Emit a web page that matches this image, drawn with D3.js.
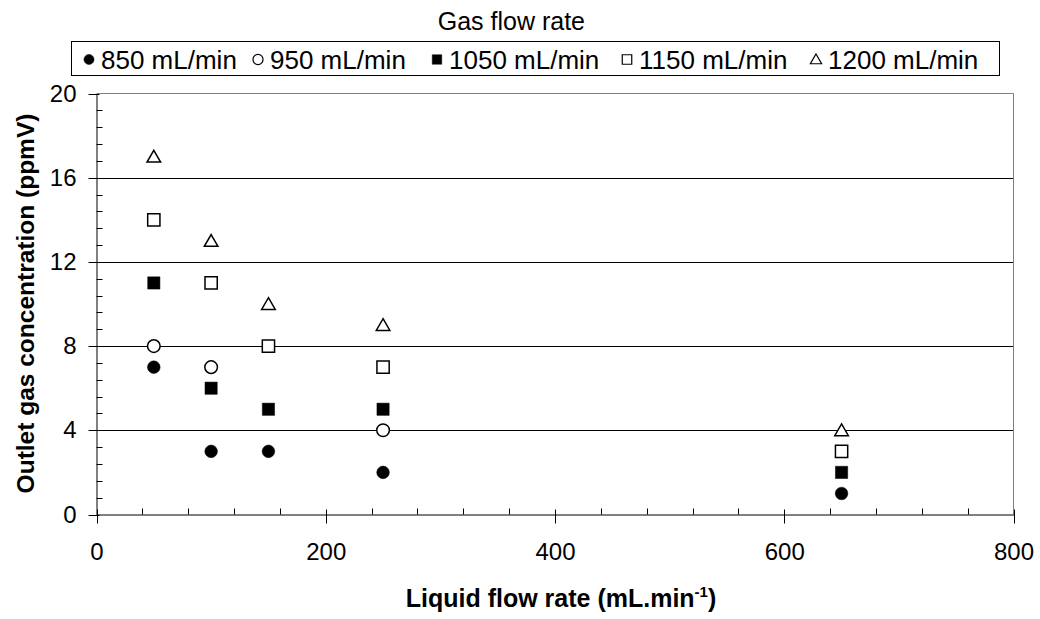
<!DOCTYPE html>
<html><head><meta charset="utf-8">
<script src="https://cdn.jsdelivr.net/npm/d3@7"></script>
<style>body{margin:0;background:#fff}svg{display:block;font-family:"Liberation Sans",Arial,sans-serif}</style>
</head><body>
<svg id="c" width="1040" height="619"></svg>
<script>
const seriesNames = ["850 mL/min","950 mL/min","1050 mL/min","1150 mL/min","1200 mL/min"];
const xs850 = [50,100,150,250,650], ys850 = [7,3,3,2,1];
const xs950 = [50,100,250], ys950 = [8,7,4];
const xs1050 = [50,100,150,250,650], ys1050 = [11,6,5,5,2];
const xs1150 = [50,100,150,250,650], ys1150 = [14,11,8,7,3];
const xs1200 = [50,100,150,250,650], ys1200 = [17,13,10,9,4];
const xTicks = [0,200,400,600,800];
const yTicks = [0,4,8,12,16,20];

const series = [
  {name:seriesNames[0], xs:xs850, ys:ys850, shape:"circle", fill:"#000"},
  {name:seriesNames[1], xs:xs950, ys:ys950, shape:"circle", fill:"#fff"},
  {name:seriesNames[2], xs:xs1050, ys:ys1050, shape:"square", fill:"#000"},
  {name:seriesNames[3], xs:xs1150, ys:ys1150, shape:"square", fill:"#fff"},
  {name:seriesNames[4], xs:xs1200, ys:ys1200, shape:"triangle", fill:"#fff"}
];

const svg = d3.select("#c");
const L=96.5, R=1013.5, T=93.5, B=514.5;
const x = d3.scaleLinear().domain([0,800]).range([L,R]);
const y = d3.scaleLinear().domain([0,20]).range([B,T]);
const py = v => Math.round(y(v))+0.5, px = v => Math.round(x(v))+0.5;

// gridlines
svg.append("g").selectAll("line").data([4,8,12,16]).join("line")
  .attr("x1",L).attr("x2",R).attr("y1",py).attr("y2",py)
  .attr("stroke","#000").attr("stroke-width",1);
// top and right border (gray)
svg.append("line").attr("x1",L).attr("x2",R).attr("y1",T).attr("y2",T).attr("stroke","#808080");
svg.append("line").attr("x1",R).attr("x2",R).attr("y1",T).attr("y2",B).attr("stroke","#808080");

// axes
const yAxis = d3.axisLeft(y).tickValues(yTicks).tickSize(0).tickPadding(20);
const gy = svg.append("g").attr("transform",`translate(${L},0)`).call(yAxis);
gy.select(".domain").attr("stroke","#000");
gy.selectAll("text").attr("font-size",24).attr("fill","#000").attr("font-family","Liberation Sans, Arial");
svg.append("g").selectAll("line").data(yTicks).join("line")
  .attr("x1",L-8).attr("x2",L+3).attr("y1",py).attr("y2",py).attr("stroke","#000");
svg.append("g").selectAll("line").data(d3.range(0,20.01,0.8).filter(v=>Math.abs(v/4-Math.round(v/4))>1e-6)).join("line")
  .attr("x1",L).attr("x2",L+6).attr("y1",py).attr("y2",py).attr("stroke","#000");

const xAxis = d3.axisBottom(x).tickValues(xTicks).tickSize(0).tickPadding(28);
const gx = svg.append("g").attr("transform",`translate(0,${B})`).call(xAxis);
gx.select(".domain").attr("stroke","#000");
gx.selectAll("text").attr("font-size",24).attr("fill","#000").attr("font-family","Liberation Sans, Arial");
svg.append("g").selectAll("line").data(xTicks).join("line")
  .attr("y1",B-5).attr("y2",B+9).attr("x1",px).attr("x2",px).attr("stroke","#000");
svg.append("g").selectAll("line").data(d3.range(40,800,40).filter(v=>v%200!==0)).join("line")
  .attr("y1",B-6).attr("y2",B).attr("x1",px).attr("x2",px).attr("stroke","#000");

// markers
function symbolPath(shape,size){
  const t = shape==="circle"?d3.symbolCircle:shape==="square"?d3.symbolSquare:d3.symbolTriangle;
  return d3.symbol(t,size)();
}
const sizes = {circle:125, square:150, triangle:80};
const markG = svg.append("g");
series.forEach(s=>{
  const pts = s.xs.map((v,i)=>[v,s.ys[i]]);
  markG.append("g").selectAll("path").data(pts).join("path")
    .attr("d",symbolPath(s.shape,sizes[s.shape]))
    .attr("transform",d=>`translate(${x(d[0])},${y(d[1]) + (s.shape==="triangle"?1.5:0)})`)
    .attr("fill",s.fill).attr("stroke","#000").attr("stroke-width",s.fill==="#000"?0.5:1.5);
});

// axis titles
svg.append("text").attr("x",561).attr("y",607).attr("text-anchor","middle")
  .attr("font-size",25).attr("font-weight","bold")
  .call(t=>{t.append("tspan").text("Liquid flow rate (mL.min");
    t.append("tspan").attr("dy",-10).attr("font-size",15).text("-1");
    t.append("tspan").attr("dy",10).text(")");});
svg.append("text").attr("transform","translate(33.5,303.5) rotate(-90)").attr("text-anchor","middle")
  .attr("font-size",24.5).attr("font-weight","bold").text("Outlet gas concentration (ppmV)");

// legend
svg.append("text").attr("x",585).attr("y",30).attr("text-anchor","end").attr("font-size",25).text("Gas flow rate");
svg.append("rect").attr("x",71.5).attr("y",41.5).attr("width",928).attr("height",34).attr("fill","#fff").attr("stroke","#000");
const legX = [89,258,437,627,816];
const lsizes = {circle:80, square:90, triangle:55};
series.forEach((s,i)=>{
  svg.append("path").attr("d",symbolPath(s.shape,lsizes[s.shape]))
    .attr("transform",`translate(${legX[i]},${59.5 + (s.shape==="triangle"?1:0)})`)
    .attr("fill",s.fill).attr("stroke","#000").attr("stroke-width",s.fill==="#000"?0.5:1.2);
  svg.append("text").attr("x",legX[i]+12).attr("y",68.5).attr("font-size",26).text(s.name);
});
</script>
</body></html>
